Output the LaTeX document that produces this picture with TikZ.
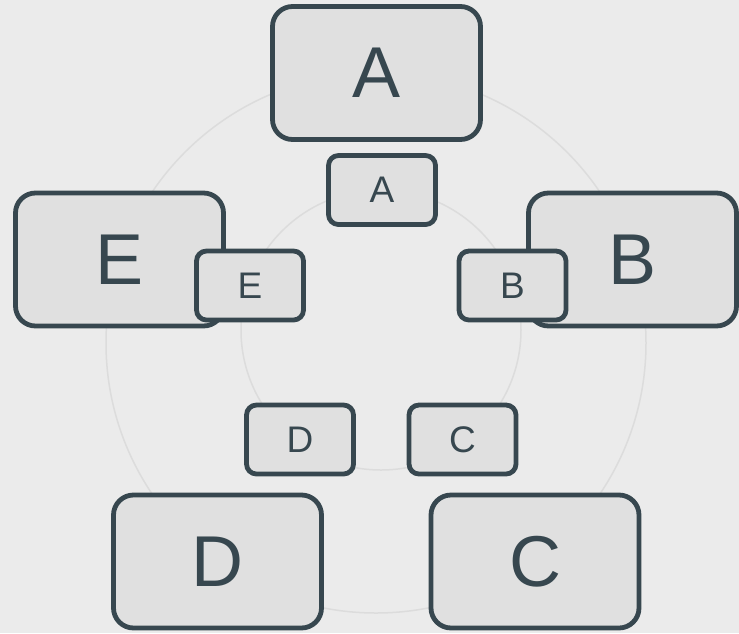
\documentclass[tikz,border=0pt]{standalone}
\usepackage{fontspec}
\setmainfont{Liberation Sans}
\definecolor{bg}{HTML}{EBEBEB}
\definecolor{boxfill}{HTML}{E0E0E0}
\definecolor{ink}{HTML}{37474F}
\definecolor{ring}{HTML}{DCDCDC}
\begin{document}
\begin{tikzpicture}[x=1pt,y=-1pt,
  bigbox/.style={draw=ink,fill=boxfill,line width=4.8pt,rounded corners=20pt,
    minimum width=208pt,minimum height=133pt,inner sep=0pt,text=ink,
    font=\fontsize{72}{80}\selectfont},
  smallbox/.style={draw=ink,fill=boxfill,line width=4.8pt,rounded corners=10pt,
    minimum width=107pt,minimum height=69pt,inner sep=0pt,text=ink,
    font=\fontsize{37}{42}\selectfont},
  ringline/.style={draw=ring,line width=1.5pt}]
\fill[bg] (0,0) rectangle (739,633);
\useasboundingbox (0,0) rectangle (739,633);
\coordinate (oc) at (376,343);
\coordinate (ic) at (381,330);
\draw[ringline] (oc) circle[radius=270];
\draw[ringline] (ic) circle[radius=140];
\node[bigbox] (A) at (376.5,73) {A};
\node[bigbox] (B) at (632.5,259.5) {B};
\node[bigbox] (C) at (535,561.5) {C};
\node[bigbox] (D) at (217.5,561.5) {D};
\node[bigbox] (E) at (119.5,259.5) {E};
\node[smallbox] (a) at (382,190) {A};
\node[smallbox] (b) at (512.5,285.5) {B};
\node[smallbox] (c) at (462.5,439.5) {C};
\node[smallbox] (d) at (300,439.5) {D};
\node[smallbox] (e) at (250,285.5) {E};
\end{tikzpicture}
\end{document}
